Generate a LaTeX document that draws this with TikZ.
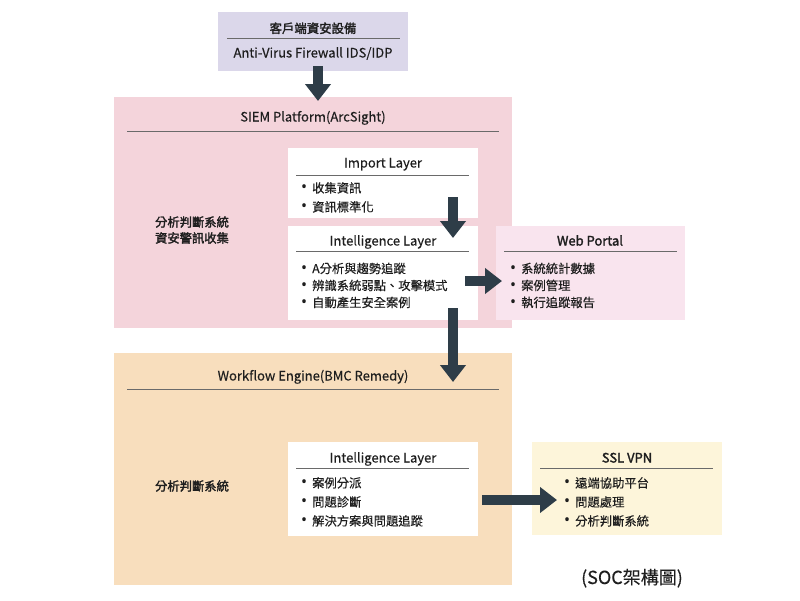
\documentclass[tikz,border=0pt]{standalone}
\usepackage{fontspec}
\setmainfont{Noto Sans CJK TC}[FakeBold=0.3]
\newfontfamily\semib{Noto Sans CJK TC}[FakeBold=2.0]
\newfontfamily\bulfont{Noto Sans}
\newcommand{\bl}{\makebox[11pt][l]{\bulfont\fontsize{16}{16}\selectfont •}}
\usetikzlibrary{arrows.meta,calc}
\definecolor{txt}{HTML}{1E1E1E}
\definecolor{rulec}{HTML}{6A6A6A}
\definecolor{arrowc}{HTML}{2E3D48}
\definecolor{lav}{HTML}{DBD7EA}
\definecolor{siemc}{HTML}{F4D4DB}
\definecolor{webc}{HTML}{F9E4EE}
\definecolor{wfc}{HTML}{F8DEBD}
\definecolor{sslc}{HTML}{FDF5DA}
\begin{document}
\begin{tikzpicture}[x=1pt,y=-1pt,
  panel/.style={draw=none, inner sep=0pt, outer sep=0pt, anchor=north west},
  ttl/.style={text=txt, inner sep=0pt, anchor=base, font=\fontsize{13}{15}\selectfont},
  ttlb/.style={ttl, font=\fontsize{13}{15}\selectfont\semib},
  lst/.style={text=txt, inner sep=0pt, anchor=north west, align=left},
  side/.style={text=txt, inner sep=0pt, align=center, font=\fontsize{12.3}{16}\selectfont\semib},
  hr/.style={draw=rulec, line width=0.9pt},
  bigarrow/.style={draw=arrowc, line width=10.5pt, -{Triangle[width=25pt,length=17pt]}}
]
\useasboundingbox (0,0) rectangle (800,600);

% panels
\node[panel, fill=lav, minimum width=190pt, minimum height=59pt] (top) at (218,12) {};
\node[panel, fill=siemc, minimum width=398pt, minimum height=231pt] (siem) at (114,97) {};
\node[panel, fill=wfc, minimum width=398pt, minimum height=232pt] (wf) at (114,353) {};
\node[panel, fill=white, minimum width=190pt, minimum height=70pt] (imp) at (288,148) {};
\node[panel, fill=white, minimum width=190pt, minimum height=94pt] (intel) at (288,226) {};
\node[panel, fill=webc, minimum width=189pt, minimum height=94pt] (web) at (496,226) {};
\node[panel, fill=white, minimum width=190pt, minimum height=94pt] (intelb) at (288,442) {};
\node[panel, fill=sslc, minimum width=190pt, minimum height=93pt] (ssl) at (532,442) {};

% top box
\node[ttlb, font=\fontsize{12.4}{15}\selectfont\semib] (topt) at (313,33) {客戶端資安設備};
\draw[hr] (227,38) -- (400,38);
\node[ttl] (tops) at (313,57.5) {Anti-Virus Firewall IDS/IDP};

% SIEM
\node[ttl] (siemt) at (313,121.5) {SIEM Platform(ArcSight)};
\draw[hr] (127,131) -- (499,131);
\node[side] (siemside) at (192,230) {分析判斷系統\\資安警訊收集};

% Import layer
\node[ttl] (impt) at (383,167.5) {Import Layer};
\draw[hr] (296,175) -- (469,175);
\node[lst, font=\fontsize{12.3}{19}\selectfont] (impl) at (301,182) {\bl 收集資訊\\\bl 資訊標準化};

% Intelligence layer
\node[ttl] (intelt) at (383,245.5) {Intelligence Layer};
\draw[hr] (296,251) -- (469,251);
\node[lst, font=\fontsize{12.3}{17}\selectfont] (intell) at (301,262.5) {\bl A分析與趨勢追蹤\\\bl 辨識系統弱點、攻擊模式\\\bl 自動產生安全案例};

% Web portal
\node[ttlb] (webt) at (590,245.5) {Web Portal};
\draw[hr] (504,251) -- (677,251);
\node[lst, font=\fontsize{12.3}{17}\selectfont] (webl) at (510,262.5) {\bl 系統統計數據\\\bl 案例管理\\\bl 執行追蹤報告};

% Workflow
\node[ttl] (wft) at (313,380.5) {Workflow Engine(BMC Remedy)};
\draw[hr] (127,389) -- (499,389);
\node[side] (wfside) at (192,486) {分析判斷系統};

% Intelligence layer 2
\node[ttl] (intelbt) at (383,462.5) {Intelligence Layer};
\draw[hr] (296,468) -- (469,468);
\node[lst, font=\fontsize{12.3}{19}\selectfont] (intelbl) at (301,477) {\bl 案例分派\\\bl 問題診斷\\\bl 解決方案與問題追蹤};

% SSL VPN
\node[ttlb] (sslt) at (627,462.5) {SSL VPN};
\draw[hr] (540,468) -- (713,468);
\node[lst, font=\fontsize{12.3}{19}\selectfont] (ssll) at (564,477) {\bl 遠端協助平台\\\bl 問題處理\\\bl 分析判斷系統};

% caption
\node[text=txt, inner sep=0pt, anchor=base, font=\fontsize{18}{20}\selectfont] (cap) at (632,584) {(SOC架構圖)};

% arrows
\draw[bigarrow] ($(top.south)+(5,-5)$) -- ($(siem.north)+(5,4)$);
\draw[bigarrow] ($(imp.south west)+(165,-21)$) -- ($(intel.north west)+(165,12)$);
\draw[bigarrow] ($(intel.north east)+(-13,55)$) -- ($(web.north west)+(6,55)$);
\draw[bigarrow] ($(intel.south west)+(165,-12)$) -- ($(wf.north west)+(339,29)$);
\draw[bigarrow] ($(intelb.north east)+(4,58)$) -- ($(ssl.north west)+(25,58)$);
\end{tikzpicture}
\end{document}
